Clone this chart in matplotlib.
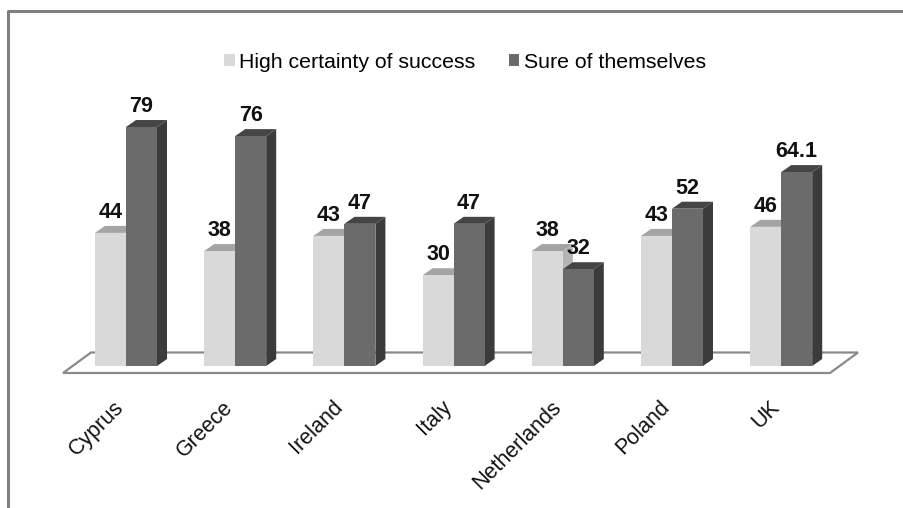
import matplotlib
matplotlib.use("Agg")
import matplotlib.pyplot as plt
from matplotlib.patches import Polygon, Rectangle, Patch
from matplotlib.lines import Line2D

plt.rcParams['font.family'] = ['Liberation Sans', 'DejaVu Sans']

# ---- data ----
countries = ["Cyprus", "Greece", "Ireland", "Italy", "Netherlands", "Poland", "UK"]
series_names = ["High certainty of success", "Sure of themselves"]
high_certainty = [44, 38, 43, 30, 38, 43, 46]
sure_of_themselves = [79, 76, 47, 47, 32, 52, 64.1]

# ---- styling ----
front_colors = ["#d9d9d9", "#6b6b6b"]
top_colors = ["#a4a4a4", "#454545"]
side_colors = ["#b4b4b4", "#3b3b3b"]
W, H, DPI = 9.04, 5.08, 100

# pixel scale of one category step and one value unit
PX_X = 109.2
PX_Y = 3.025
ORIGIN = (126, 366)  # pixel position of first category / zero value

fig = plt.figure(figsize=(W, H), dpi=DPI)
fig.patch.set_facecolor("white")
ax = fig.add_axes([0, 0, 1, 1])
ax.set_xlim(-ORIGIN[0] / PX_X, (W * DPI - ORIGIN[0]) / PX_X)
ax.set_ylim((ORIGIN[1] - H * DPI) / PX_Y, ORIGIN[1] / PX_Y)
ax.axis("off")

bar_w = 31 / PX_X          # width of one bar in category units
dx = 10 / PX_X             # 3-D depth offset
dy = 7 / PX_Y

# floor plane
n = len(countries)
f_front = -7 / PX_Y
f_dx, f_dy = 28 / PX_X, 20.5 / PX_Y
fl, fr = -0.577, (n - 1) + 0.447
floor = Polygon([(fl, f_front), (fr, f_front), (fr + f_dx, f_front + f_dy),
                 (fl + f_dx, f_front + f_dy)], closed=True,
                facecolor="white", edgecolor="#8a8a8a", linewidth=1.6, zorder=1)
ax.add_patch(floor)

series = [high_certainty, sure_of_themselves]
for i in range(n):
    for s, vals in enumerate(series):
        v = vals[i]
        xl = i - bar_w + s * bar_w
        xr = xl + bar_w
        z = 2 + i * 0.1 + s * 0.01
        ax.add_patch(Polygon([(xr, 0), (xr + dx, dy), (xr + dx, v + dy), (xr, v)],
                             closed=True, facecolor=side_colors[s], edgecolor="none", zorder=z))
        ax.add_patch(Polygon([(xl, v), (xl + dx, v + dy), (xr + dx, v + dy), (xr, v)],
                             closed=True, facecolor=top_colors[s], edgecolor="none", zorder=z))
        ax.add_patch(Rectangle((xl, 0), bar_w, v, facecolor=front_colors[s],
                               edgecolor="none", zorder=z + 0.001))
        ax.annotate(f"{v:g}", (xl + bar_w / 2, v), xytext=(0, 15 * 72 / DPI),
                    textcoords="offset points", ha="center", va="baseline",
                    fontsize=15.5, fontweight="bold", color="#111111", zorder=10)

# category labels
for i, name in enumerate(countries):
    ax.text(i - 5 / PX_X, -38 / PX_Y, name, rotation=45, rotation_mode="anchor",
            ha="right", va="center", fontsize=15.5, color="#111111")

# legend
handles = [Patch(facecolor=front_colors[k], edgecolor="none") for k in range(2)]
fig.legend(handles, series_names, loc="center", bbox_to_anchor=(465 / 904, 1 - 62 / 508),
           ncol=2, frameon=False, fontsize=15.3, handlelength=0.5, handleheight=0.5,
           handletextpad=0.22, columnspacing=1.55)

# chart frame (top and left edges)
fig.add_artist(Line2D([8 / 904, 8 / 904, 1], [0, 1 - 11 / 508, 1 - 11 / 508],
                      transform=fig.transFigure, color="#7f7f7f", linewidth=2.2))

fig.savefig("out.png", dpi=DPI, facecolor="white")
